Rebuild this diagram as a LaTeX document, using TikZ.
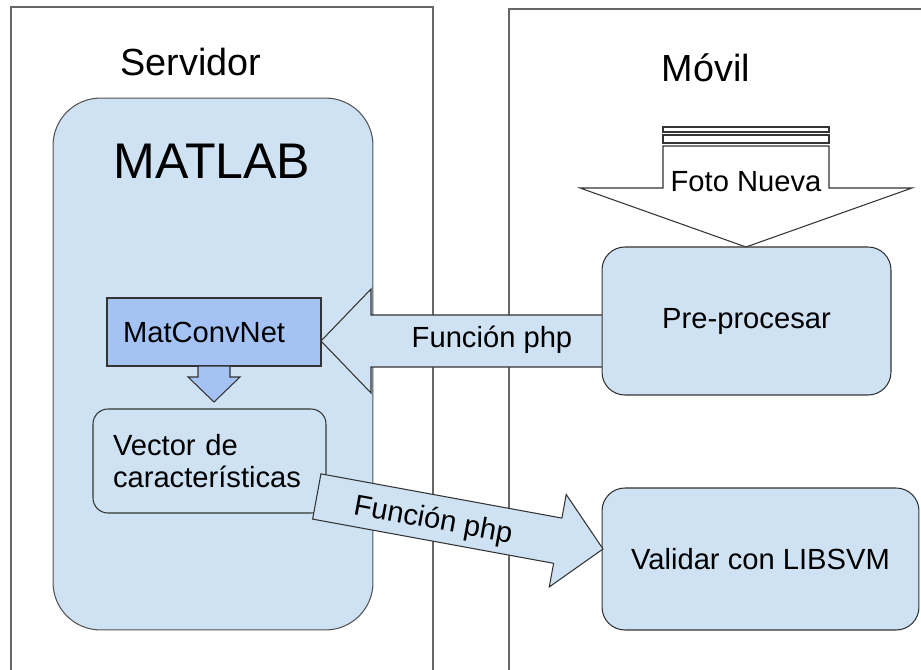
\documentclass[tikz,border=0pt]{standalone}
\usepackage{fontspec}
\setmainfont{Liberation Sans}
\usetikzlibrary{positioning}

\definecolor{paleblue}{HTML}{CFE2F3}
\definecolor{cornblue}{HTML}{A4C2F4}
\definecolor{edge}{HTML}{333333}
\definecolor{laneline}{HTML}{666666}

\begin{document}
\begin{tikzpicture}[
    x=0.02cm, y=-0.02cm,
    lane/.style={draw=laneline, line width=1.1pt},
    title/.style={font=\fontsize{21.5}{26}\selectfont},
    box/.style={rectangle, rounded corners=13pt, draw=edge, fill=paleblue, line width=0.6pt,
                align=center, font=\fontsize{16.6}{18.7}\selectfont},
    netbox/.style={rectangle, draw=edge, fill=cornblue, line width=0.6pt,
                   align=left, font=\fontsize{16.6}{18.7}\selectfont},
    blockarr/.style={draw=edge, fill=paleblue, line width=0.6pt, line join=miter},
    lbl/.style={font=\fontsize{16.6}{18.7}\selectfont}
]
\useasboundingbox (0,0) rectangle (921,670);

% swimlanes
\draw[lane] (11,670) |- (433,7) -- (433,670);
\draw[lane] (509,670) |- (925,9);
\node[title] (servidor) at (191,62) {Servidor};
\node[title] (movil)    at (706,68) {Móvil};

% servidor side
\node[box, rounded corners=27pt, draw=edge!85, minimum width=6.4cm, minimum height=10.64cm] (matlab) at (213,364) {};
\node[font=\fontsize{28.5}{34}\selectfont] (matlabtxt) at (212,161) {MATLAB};
\node[netbox, minimum height=1.36cm, text width=3.64cm, inner xsep=0.32cm] (convnet) at (214,332) {MatConvNet};
\node[box, rounded corners=8.5pt, align=left, minimum height=2.08cm, text width=3.86cm, inner xsep=0.4cm] (vector) at (209.5,461) {Vector de\\características};
\draw[blockarr, fill=cornblue] (198,366) -- (230,366) -- (230,377) -- (240,377) -- (214,402)
    -- (188,377) -- (198,377) -- cycle;

% php call into the server
\draw[blockarr] (321,341) -- (371,289) -- (371,315) -- (606,315) -- (606,367) -- (371,367)
    -- (371,393) -- cycle;
\node[lbl] (phpInTxt) at (492,340) {Función php};

% movil side
\node[box, minimum width=5.78cm, minimum height=2.96cm] (prep) at (746.5,321) {Pre-procesar};
\node[box, minimum width=6.34cm, minimum height=2.84cm] (validar) at (760.5,559) {Validar con LIBSVM};

% php call back to the phone
\begin{scope}[shift={(603,549)}, rotate=-10.4]
  \draw[blockarr] (0,0) -- (-46,-47) -- (-46,-23) -- (-291,-23) -- (-291,23) -- (-46,23)
      -- (-46,47) -- cycle;
\end{scope}
\node[lbl, rotate=-10.4] (phpOutTxt) at (433,521) {Función php};

% new photo
\draw[blockarr, fill=white] (663,146) -- (829,146) -- (829,188) -- (912,188) -- (746,247)
    -- (580,188) -- (663,188) -- cycle;
\draw[blockarr, fill=white] (663,135) rectangle (829,143);
\draw[blockarr, fill=white] (663,127) rectangle (829,132);
\node[lbl] (fotoTxt) at (746,182) {Foto Nueva};
\end{tikzpicture}
\end{document}
